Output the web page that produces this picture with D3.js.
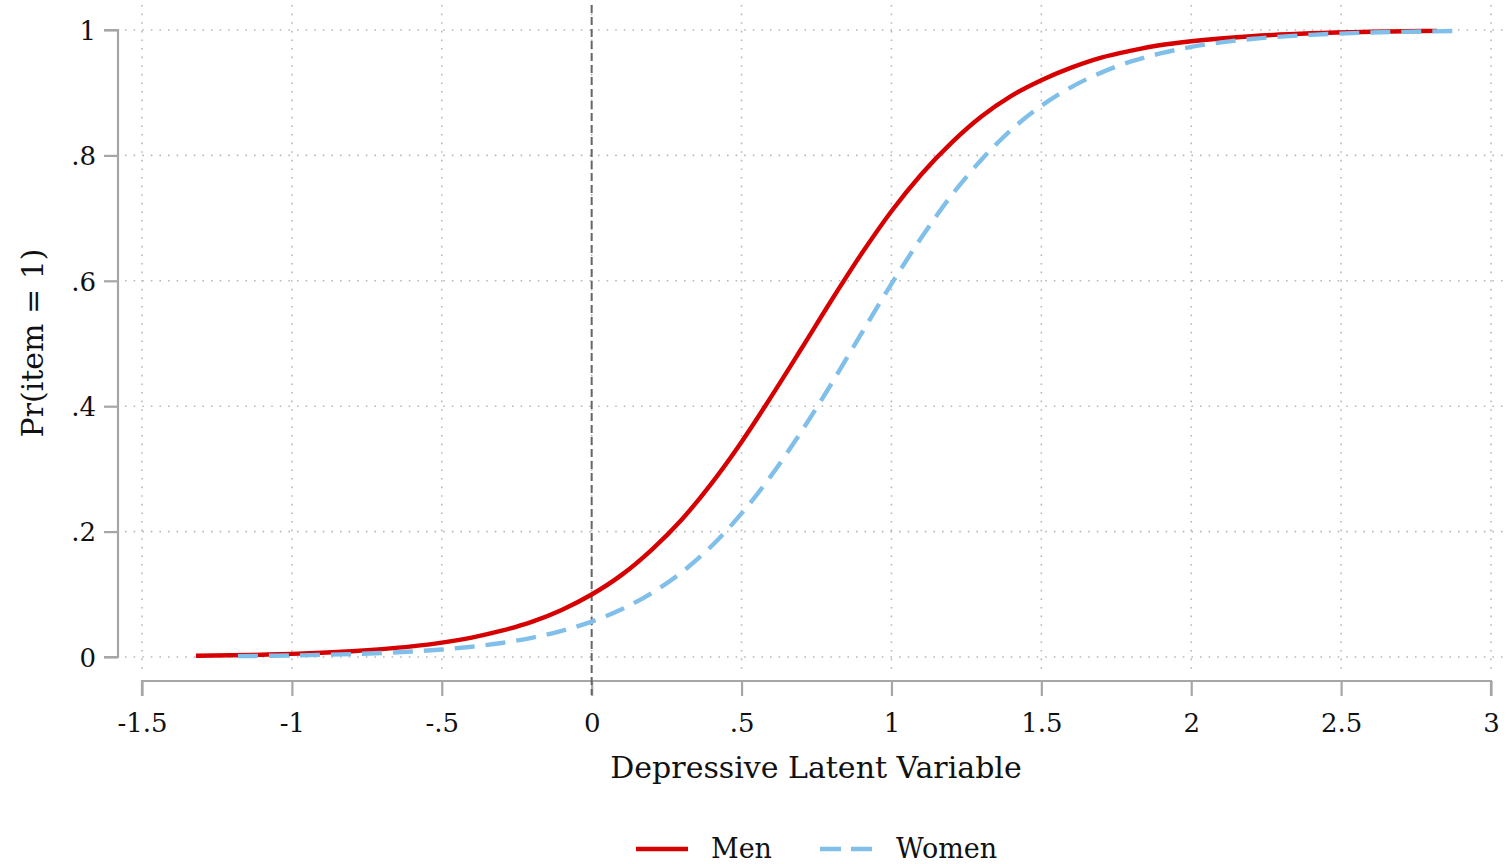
<!DOCTYPE html>
<html>
<head>
<meta charset="utf-8">
<script src="https://cdn.jsdelivr.net/npm/d3@7"></script>
<style>
html,body{margin:0;padding:0;background:#fff;}
svg{display:block;}
text{font-family:"DejaVu Serif","Liberation Serif",serif;fill:#111;}
</style>
</head>
<body>
<svg id="chart" width="1508" height="864"></svg>
<script>
const xTicks = [-1.5, -1, -0.5, 0, 0.5, 1, 1.5, 2, 2.5, 3];
const xTickLabels = ["-1.5", "-1", "-.5", "0", ".5", "1", "1.5", "2", "2.5", "3"];
const yTicks = [0, 0.2, 0.4, 0.6, 0.8, 1];
const yTickLabels = ["0", ".2", ".4", ".6", ".8", "1"];

const menX = [-1.32,-1.2,-1.1,-1.0,-0.9,-0.8,-0.7,-0.6,-0.5,-0.4,-0.3,-0.2,-0.1,0,0.1,0.2,0.3,0.4,0.5,0.6,0.7,0.8,0.9,1.0,1.1,1.2,1.3,1.4,1.5,1.6,1.7,1.8,1.9,2.0,2.2,2.4,2.6,2.82];
const menY = [0.0019,0.0027,0.0037,0.0050,0.0068,0.0092,0.0125,0.0169,0.0229,0.0310,0.0419,0.0560,0.0751,0.0997,0.131,0.171,0.219,0.277,0.343,0.416,0.492,0.569,0.643,0.711,0.770,0.820,0.862,0.895,0.920,0.940,0.956,0.967,0.976,0.982,0.990,0.9947,0.9972,0.9986];

const womenX = [-1.18,-1.1,-1.0,-0.9,-0.8,-0.7,-0.6,-0.5,-0.4,-0.3,-0.2,-0.1,0,0.1,0.2,0.3,0.4,0.5,0.6,0.7,0.8,0.9,1.0,1.1,1.2,1.3,1.4,1.5,1.6,1.7,1.8,1.9,2.0,2.2,2.4,2.6,2.89];
const womenY = [0.0014,0.0018,0.0024,0.0034,0.0046,0.0063,0.0087,0.0119,0.0164,0.0224,0.0306,0.0416,0.0565,0.0761,0.102,0.135,0.177,0.229,0.290,0.360,0.436,0.516,0.595,0.669,0.736,0.793,0.841,0.879,0.909,0.932,0.950,0.963,0.973,0.9856,0.9923,0.9959,0.9984];

const seriesNames = ["Men", "Women"];
const refLineX = 0;

const svg = d3.select("#chart");
const x = d3.scaleLinear().domain([-1.5, 3]).range([142, 1491]);
const y = d3.scaleLinear().domain([0, 1]).range([657, 30]);

const gridColor = "#b8b8b8";
const axisColor = "#a6a6a6";

// grid
const grid = svg.append("g");
grid.selectAll("line.hg").data(yTicks).join("line")
  .attr("x1", 125).attr("x2", 1508)
  .attr("y1", d => y(d)).attr("y2", d => y(d))
  .attr("stroke", gridColor).attr("stroke-width", 1.6)
  .attr("stroke-dasharray", "1.6,7");
grid.selectAll("line.vg").data(xTicks).join("line")
  .attr("x1", d => x(d)).attr("x2", d => x(d))
  .attr("y1", 5).attr("y2", 672)
  .attr("stroke", gridColor).attr("stroke-width", 1.6)
  .attr("stroke-dasharray", "1.6,7");

// y axis
const yAxis = d3.axisLeft(y).tickValues(yTicks).tickFormat((d,i) => yTickLabels[i]).tickSize(14).tickPadding(8);
const gy = svg.append("g").attr("transform", "translate(118,0)").call(yAxis);
gy.select(".domain").attr("stroke", axisColor).attr("stroke-width", 2.2).attr("d", `M-14,${y(1)}H0V${y(0)}H-14`);
gy.selectAll(".tick line").attr("stroke", axisColor).attr("stroke-width", 2.2);
gy.selectAll(".tick text").attr("font-size", 26).attr("font-family", "DejaVu Serif").attr("fill", "#111").attr("dy", "0.36em");

// x axis
const xAxis = d3.axisBottom(x).tickValues(xTicks).tickFormat((d,i) => xTickLabels[i]).tickSize(15).tickPadding(15);
const gx = svg.append("g").attr("transform", "translate(0,681)").call(xAxis);
gx.select(".domain").attr("stroke", axisColor).attr("stroke-width", 2.2).attr("d", `M${x(-1.5)},15V0H${x(3)}V15`);
gx.selectAll(".tick line").attr("stroke", axisColor).attr("stroke-width", 2.2);
gx.selectAll(".tick text").attr("font-size", 26).attr("font-family", "DejaVu Serif").attr("fill", "#111").attr("dy", "0.8em");

// reference line at 0
svg.append("line")
  .attr("x1", x(refLineX)).attr("x2", x(refLineX))
  .attr("y1", 5).attr("y2", 695)
  .attr("stroke", "#666").attr("stroke-width", 2)
  .attr("stroke-dasharray", "8,4");

const line = d3.line().x(d => x(d[0])).y(d => y(d[1])).curve(d3.curveMonotoneX);
const menData = menX.map((v,i) => [v, menY[i]]);
const womenData = womenX.map((v,i) => [v, womenY[i]]);

svg.append("path").datum(menData).attr("d", line)
  .attr("fill", "none").attr("stroke", "#d60000").attr("stroke-width", 4.4)
  .attr("stroke-linejoin", "round");
svg.append("path").datum(womenData).attr("d", line)
  .attr("fill", "none").attr("stroke", "#80bfe9").attr("stroke-width", 4.4)
  .attr("stroke-dasharray", "20,11");

// axis titles
svg.append("text").attr("x", 816).attr("y", 778).attr("text-anchor", "middle")
  .attr("font-size", 30).text("Depressive Latent Variable");
svg.append("text").attr("transform", "translate(43,343) rotate(-90)").attr("text-anchor", "middle")
  .attr("font-size", 30).text("Pr(item = 1)");

// legend
const legend = svg.append("g");
legend.append("line").attr("x1", 636).attr("x2", 688).attr("y1", 849).attr("y2", 849)
  .attr("stroke", "#d60000").attr("stroke-width", 4.4);
legend.append("text").attr("x", 711).attr("y", 858).attr("font-size", 27).text(seriesNames[0]);
legend.append("line").attr("x1", 820).attr("x2", 873).attr("y1", 849).attr("y2", 849)
  .attr("stroke", "#80bfe9").attr("stroke-width", 4.4).attr("stroke-dasharray", "21,10");
legend.append("text").attr("x", 896).attr("y", 858).attr("font-size", 27).text(seriesNames[1]);
</script>
</body>
</html>
